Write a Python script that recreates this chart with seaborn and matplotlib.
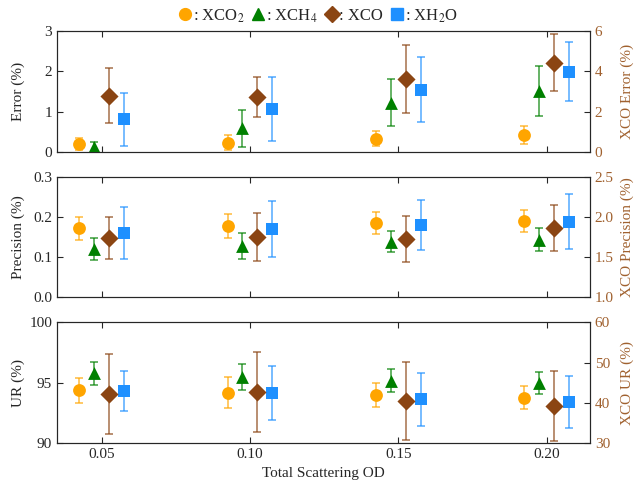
import numpy as np
import pandas as pd
import seaborn as sns
import matplotlib.pyplot as plt
from matplotlib.lines import Line2D

# total scattering optical depth
od = [0.05, 0.10, 0.15, 0.20]

# Error (%) -- XCO on the right axis
err_xco2 = [0.19, 0.23, 0.33, 0.415]
err_xco2_sd = [0.15, 0.19, 0.18, 0.22]
err_xch4 = [0.13, 0.585, 1.22, 1.52]
err_xch4_sd = [0.11, 0.46, 0.58, 0.62]
err_xco = [2.8, 2.74, 3.63, 4.43]
err_xco_sd = [1.35, 0.99, 1.68, 1.4]
err_xh2o = [0.81, 1.07, 1.55, 1.99]
err_xh2o_sd = [0.65, 0.8, 0.8, 0.73]

# Precision (%)
pre_xco2 = [0.171, 0.177, 0.185, 0.19]
pre_xco2_sd = [0.028, 0.03, 0.027, 0.028]
pre_xch4 = [0.12, 0.128, 0.138, 0.143]
pre_xch4_sd = [0.027, 0.032, 0.027, 0.028]
pre_xco = [1.74, 1.75, 1.725, 1.858]
pre_xco_sd = [0.26, 0.295, 0.29, 0.29]
pre_xh2o = [0.159, 0.169, 0.179, 0.188]
pre_xh2o_sd = [0.065, 0.07, 0.062, 0.068]

# UR (%)
ur_xco2 = [94.37, 94.17, 93.97, 93.76]
ur_xco2_sd = [1.0, 1.28, 0.99, 0.95]
ur_xch4 = [95.77, 95.47, 95.18, 94.96]
ur_xch4_sd = [0.98, 1.09, 0.94, 0.91]
ur_xco = [42.2, 42.7, 40.45, 39.25]
ur_xco_sd = [10.0, 10.0, 9.6, 8.75]
ur_xh2o = [94.35, 94.16, 93.65, 93.45]
ur_xh2o_sd = [1.65, 2.25, 2.2, 2.15]

gases = ['XCO$_2$', 'XCH$_4$', 'XCO', 'XH$_2$O']
colors = ['#FFA500', '#008000', '#8B4513', '#1E90FF']
markers = ['o', '^', 'D', 's']
offsets = [-0.0075, -0.0025, 0.0025, 0.0075]
right_color = '#A0612F'

sns.set_style('ticks')
plt.rcParams['font.family'] = ['Liberation Serif', 'DejaVu Serif']
plt.rcParams['mathtext.fontset'] = 'stix'
plt.rcParams['xtick.direction'] = 'in'
plt.rcParams['ytick.direction'] = 'in'

fig = plt.figure(figsize=(6.35, 4.82), dpi=100)

panels = [
    dict(pos=[0.0898, 0.6846, 0.8393, 0.251],
         vals=[(err_xco2, err_xco2_sd), (err_xch4, err_xch4_sd), (err_xco, err_xco_sd), (err_xh2o, err_xh2o_sd)],
         ylim=(0, 3), yticks=[0, 1, 2, 3], yfmt='{:.0f}',
         ylim2=(0, 6), yticks2=[0, 2, 4, 6], yfmt2='{:.0f}',
         label='Error (%)', label2='XCO Error (%)'),
    dict(pos=[0.0898, 0.3838, 0.8393, 0.2496],
         vals=[(pre_xco2, pre_xco2_sd), (pre_xch4, pre_xch4_sd), (pre_xco, pre_xco_sd), (pre_xh2o, pre_xh2o_sd)],
         ylim=(0, 0.3), yticks=[0, 0.1, 0.2, 0.3], yfmt='{:.1f}',
         ylim2=(1.0, 2.5), yticks2=[1.0, 1.5, 2.0, 2.5], yfmt2='{:.1f}',
         label='Precision (%)', label2='XCO Precision (%)'),
    dict(pos=[0.0898, 0.0803, 0.8393, 0.251],
         vals=[(ur_xco2, ur_xco2_sd), (ur_xch4, ur_xch4_sd), (ur_xco, ur_xco_sd), (ur_xh2o, ur_xh2o_sd)],
         ylim=(90, 100), yticks=[90, 95, 100], yfmt='{:.0f}',
         ylim2=(30, 60), yticks2=[30, 40, 50, 60], yfmt2='{:.0f}',
         label='UR (%)', label2='XCO UR (%)'),
]

for i, p in enumerate(panels):
    ax = fig.add_axes(p['pos'])
    ax2 = ax.twinx()
    for g, (vals, sd) in enumerate(p['vals']):
        target = ax2 if gases[g] == 'XCO' else ax
        df = pd.DataFrame({'x': np.array(od) + offsets[g], 'y': vals, 'sd': sd})
        target.errorbar(df['x'], df['y'], yerr=df['sd'], fmt='none', ecolor=colors[g],
                        elinewidth=1.2, capsize=3, capthick=1.2, alpha=0.7, zorder=2)
        sns.scatterplot(data=df, x='x', y='y', ax=target, color=colors[g], marker=markers[g],
                        s=85, linewidth=0, zorder=3, legend=False)
    ax.set_xlim(0.035, 0.2146)
    ax.set_ylim(*p['ylim'])
    ax.set_yticks(p['yticks'])
    ax.set_yticklabels([p['yfmt'].format(v) for v in p['yticks']], fontsize=11)
    ax2.set_ylim(*p['ylim2'])
    ax2.set_yticks(p['yticks2'])
    ax2.set_yticklabels([p['yfmt2'].format(v) for v in p['yticks2']], fontsize=11, color=right_color)
    ax.set_xticks(od)
    ax.tick_params(axis='x', top=True, length=4)
    ax.tick_params(axis='y', length=4)
    ax2.tick_params(axis='y', length=4)
    ax.set_ylabel('')
    ax2.set_ylabel('')
    # axis titles placed at fixed figure positions, as in the reference
    ymid = p['pos'][1] + p['pos'][3] / 2
    fig.text(18 / 635, ymid, p['label'], rotation=90, ha='center', va='center', fontsize=11)
    fig.text(627 / 635, ymid, p['label2'], rotation=90, ha='center', va='center', fontsize=11,
             color=right_color)
    if i < 2:
        ax.set_xticklabels([])
        ax.set_xlabel('')
    else:
        ax.set_xticklabels(['{:.2f}'.format(v) for v in od], fontsize=11)
        ax.set_xlabel('Total Scattering OD', fontsize=11)
    ax2.set_xlabel('')

handles = [Line2D([], [], linestyle='none', marker=markers[g], color=colors[g], markersize=8.5)
           for g in range(4)]
fig.legend(handles, [': ' + g for g in gases], loc='center', bbox_to_anchor=(0.500, 0.967),
           ncol=4, frameon=False, handletextpad=0.0, columnspacing=0.4, handlelength=0.9,
           fontsize=12)

fig.savefig('out.png', dpi=100)
